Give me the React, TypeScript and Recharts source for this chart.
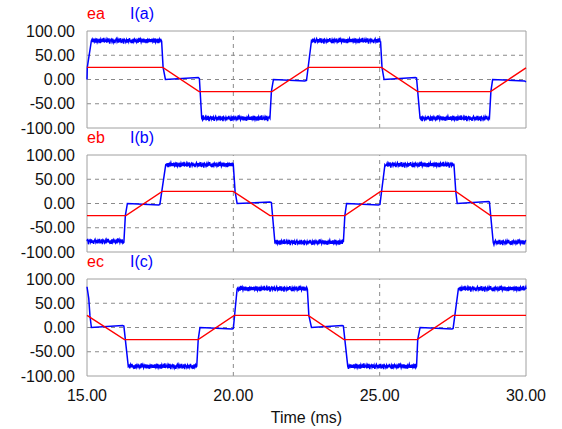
import { LineChart, Line, XAxis, YAxis, ReferenceLine } from "recharts";

// back-EMF breakpoints (ms, value)
const emfATime = [15, 17.59, 18.83, 21.32, 22.57, 25.06, 26.3, 28.79, 30];
const emfAValue = [25, 25, -25, -25, 25, 25, -25, -25, 24];
const emfBTime = [15, 16.33, 17.57, 20.0, 21.25, 23.81, 25.03, 27.6, 28.79, 30];
const emfBValue = [-25, -25, 25, 25, -25, -25, 25, 25, -25, -25];
const emfCTime = [15, 16.28, 18.8, 20.03, 22.56, 23.78, 26.28, 27.51, 30];
const emfCValue = [25, -25, -25, 25, 25, -25, -25, 25, 25];

// phase current corners (ms, A)
const curATime = [15, 15.01, 15.15, 17.55, 17.6, 17.68, 18.8, 18.84, 18.92, 21.25, 21.3, 21.37, 22.44, 22.5, 22.67, 25.03, 25.08, 25.15, 26.22, 26.26, 26.38, 28.75, 28.8, 28.86, 29.95, 30];
const curAValue = [0, 25, 80, 79, 25, 0, 4, 2, -80, -80, -25, 0, -3, -2, 80, 79, 25, 0, 4, 3, -80, -80, -25, 0, -3, -5];
const curBTime = [15, 16.26, 16.31, 16.38, 17.45, 17.49, 17.69, 20.0, 20.06, 20.13, 21.25, 21.3, 21.42, 23.76, 23.81, 23.87, 24.96, 25.01, 25.18, 27.54, 27.6, 27.65, 28.72, 28.75, 28.88, 30];
const curBValue = [-78, -80, -25, 0, -3, -2, 80, 79, 25, 0, 3, 2, -80, -80, -25, 0, -3, -2, 80, 79, 25, 0, 4, 3, -80, -78];
const curCTime = [15, 15.06, 15.1, 15.15, 16.22, 16.26, 16.41, 18.75, 18.8, 18.86, 19.96, 20.0, 20.13, 22.53, 22.58, 22.67, 23.72, 23.76, 23.91, 26.26, 26.3, 26.38, 27.47, 27.51, 27.69, 30];
const curCValue = [84, 60, 25, 0, 4, 3, -80, -80, -25, 0, -3, -2, 80, 79, 25, 0, 4, 3, -80, -80, -25, 0, -3, -2, 80, 79];

// PWM ripple on the conduction plateaus, read as rough offsets
const ripple = [3, -3, 4, -2, 2, -4, 5, -3, 1, -2, 4, -5, 3, -1, 2, -3, 6, -2, -1, 3, -4, 2, -3, 5, -6, 1, 3, -2, 4, -3, 2, -5, 1, 4, -2, 3, -4, 2, -1, 5, -3, -2, 4, -6, 3, 1, -3, 2, -4, 3, -2, 5, -1, -3, 2, -5, 4, -2, 3, -1, 2, -3, 1, -4, 6, -2, 3, -3, 2, -1, 4, -4, 1, -2, 3, -5, 2, -1, 4, -3];

const yTicks = [-100, -50, 0, 50, 100];
const xTicks = [15, 20, 25, 30];

type Pt = { t: number; v: number };

function pairUp(times: number[], values: number[]): Pt[] {
  return times.map((t, i) => ({ t, v: values[i] }));
}

function withRipple(times: number[], values: number[], start: number): Pt[] {
  const out: Pt[] = [];
  let k = start;
  for (let i = 0; i < times.length; i++) {
    out.push({ t: times[i], v: values[i] });
    if (i + 1 >= times.length) break;
    if (Math.abs(values[i]) >= 70 && Math.abs(values[i + 1]) >= 70) {
      for (let t = times[i] + 0.025; t < times[i + 1] - 0.01; t += 0.025) {
        out.push({ t, v: values[i] + ripple[k % ripple.length] });
        k++;
      }
    }
  }
  return out;
}

const FONT = "'Liberation Sans', Arial, sans-serif";
const GRID = "#8a8a8a";
const FRAME = "#a0a0a0";

interface PanelProps {
  top: number;
  height: number;
  emf: Pt[];
  cur: Pt[];
  emfLabel: string;
  curLabel: string;
  showX?: boolean;
}

function Panel({ top, height, emf, cur, emfLabel, curLabel, showX = false }: PanelProps) {
  return (
    <div style={{ position: "absolute", left: 0, top, width: 562, height }}>
      <span style={{ position: "absolute", left: 87, top: 5, color: "#ff0000", fontSize: 16, lineHeight: "18px" }}>
        {emfLabel}
      </span>
      <span style={{ position: "absolute", left: 130, top: 5, color: "#0000ff", fontSize: 16, lineHeight: "18px" }}>
        {curLabel}
      </span>
      <LineChart width={562} height={height} margin={{ top: 31, right: 36, bottom: showX ? 0 : 12, left: 0 }}>
        <XAxis
          type="number"
          dataKey="t"
          domain={[15, 30]}
          ticks={xTicks}
          hide={!showX}
          axisLine={false}
          tickLine={false}
          tickSize={0}
          tickMargin={14}
          height={53}
          interval={0}
          tickFormatter={(v: number) => v.toFixed(2)}
          tick={{ fontSize: 16, fill: "#111", fontFamily: FONT }}
          label={{ value: "Time (ms)", position: "insideBottom", offset: 6, fill: "#111", fontSize: 16, fontFamily: FONT }}
        />
        <YAxis
          type="number"
          domain={[-100, 100]}
          ticks={yTicks}
          width={87}
          axisLine={false}
          tickLine={false}
          tickSize={0}
          tickMargin={12}
          interval={0}
          tickFormatter={(v: number) => v.toFixed(2)}
          tick={{ fontSize: 16, fill: "#111", fontFamily: FONT }}
        />
        {[50, 0, -50].map((y) => (
          <ReferenceLine key={"h" + y} y={y} stroke={GRID} strokeDasharray="4 4" />
        ))}
        {[20, 25].map((x) => (
          <ReferenceLine key={"v" + x} x={x} stroke={GRID} strokeDasharray="4 4" />
        ))}
        <ReferenceLine y={100} stroke={FRAME} />
        <ReferenceLine y={-100} stroke={FRAME} />
        <ReferenceLine x={15} stroke={FRAME} />
        <ReferenceLine x={30} stroke={FRAME} />
        <Line data={cur} dataKey="v" type="linear" stroke="#0000ff" strokeWidth={1.5} dot={false} isAnimationActive={false} />
        <Line data={emf} dataKey="v" type="linear" stroke="#ff0000" strokeWidth={1.4} dot={false} isAnimationActive={false} />
      </LineChart>
    </div>
  );
}

export default function App() {
  return (
    <div style={{ position: "absolute", left: 0, top: 0, width: 562, height: 429, background: "#fff", fontFamily: FONT }}>
      <Panel top={0} height={140} emf={pairUp(emfATime, emfAValue)} cur={withRipple(curATime, curAValue, 0)} emfLabel="ea" curLabel="I(a)" />
      <Panel top={124} height={140} emf={pairUp(emfBTime, emfBValue)} cur={withRipple(curBTime, curBValue, 23)} emfLabel="eb" curLabel="I(b)" />
      <Panel top={248} height={181} emf={pairUp(emfCTime, emfCValue)} cur={withRipple(curCTime, curCValue, 47)} emfLabel="ec" curLabel="I(c)" showX />
    </div>
  );
}
